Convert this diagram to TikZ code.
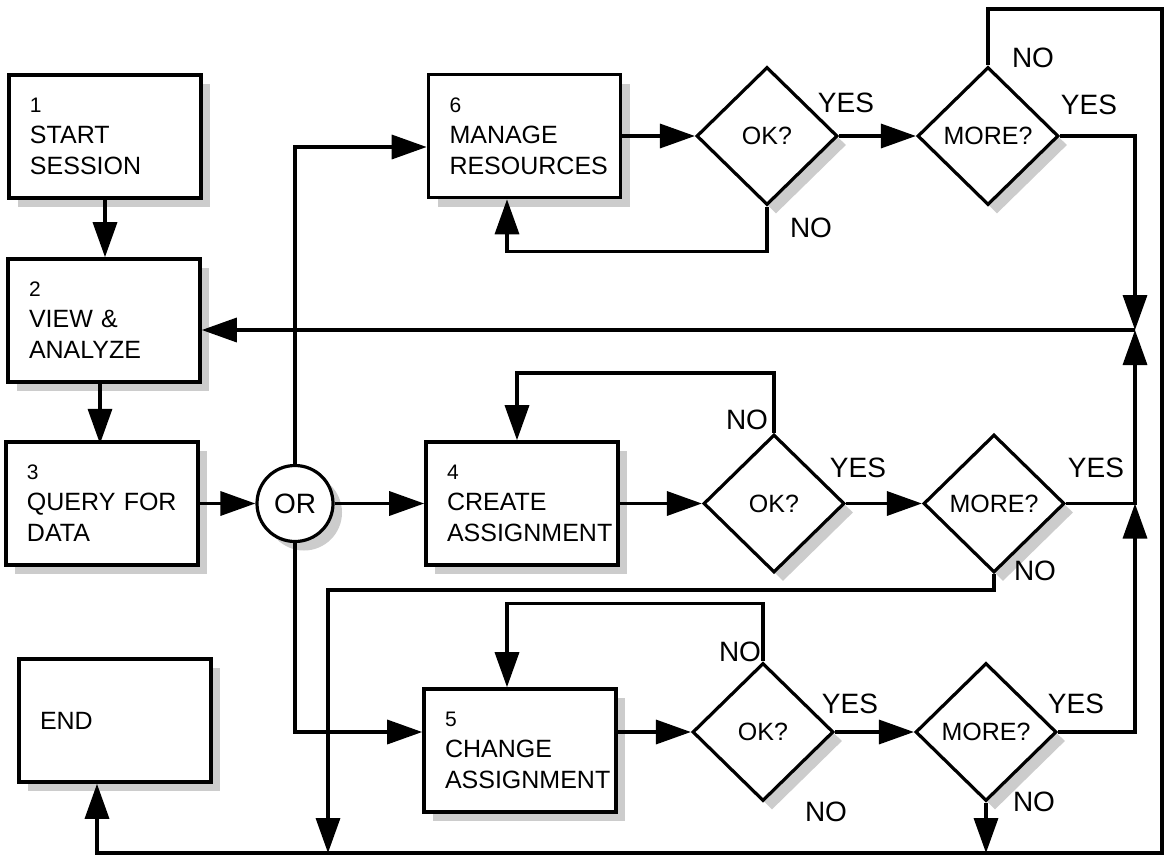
\documentclass[tikz,border=0pt]{standalone}
\usepackage{fontspec}
\setmainfont{Liberation Sans}
\usetikzlibrary{arrows.meta,shapes.geometric,shadows,calc}
\hfuzz=200pt
\hbadness=10000
\newcommand{\fcBoxFont}{\fontsize{25}{31}\selectfont}
\newcommand{\fcNumFont}{\fontsize{21}{31}\selectfont}
\newcommand{\fcLblFont}{\fontsize{28}{32}\selectfont}
\newcommand{\fcQFont}{\fontsize{25}{28}\selectfont}
\tikzset{
  shade9/.style={drop shadow={shadow xshift=9pt, shadow yshift=-9pt, fill=gray!40, opacity=1}},
  stepbox/.style={draw, line width=3.6pt, fill=white, shade9,
    minimum height=123pt, text width=150pt, inner xsep=21pt, inner ysep=0pt,
    align=left, font=\fcBoxFont},
  decide/.style={shape=diamond, draw, line width=3.2pt, fill=white, shade9,
    minimum width=141pt, minimum height=138pt, inner sep=0pt, font=\fcQFont},
  orgate/.style={shape=circle, draw, line width=3.2pt, fill=white, shade9,
    minimum size=76pt, inner sep=0pt, font=\fcLblFont},
  lbl/.style={inner sep=0pt, font=\fcLblFont},
  arr/.style={line width=3.4pt, -{Triangle[length=35pt, width=24pt]}},
  wire/.style={line width=3.4pt}
}
\begin{document}
\begin{tikzpicture}[x=1pt, y=-1pt]
  \fill[white] (0,0) rectangle (1168,855);
  \useasboundingbox (0,0) rectangle (1168,855);

  % process boxes
  \node[stepbox] (b1) at (105,136.5) {{\fcNumFont 1}\\START\\SESSION};
  \node[stepbox] (b2) at (104,320.5) {{\fcNumFont 2}\\VIEW \&\\ANALYZE};
  \node[stepbox] (b3) at (102,503.5) {{\fcNumFont 3}\\QUERY FOR\\DATA};
  \node[stepbox] (b4) at (522,503.5) {{\fcNumFont 4}\\CREATE\\ASSIGNMENT};
  \node[stepbox] (b5) at (520,750.5) {{\fcNumFont 5}\\CHANGE\\ASSIGNMENT};
  \node[stepbox] (b6) at (524.5,136) {{\fcNumFont 6}\\MANAGE\\RESOURCES};
  \node[stepbox] (end) at (115,720.5) {END};

  % OR gate
  \node[orgate] (or) at (295,503.5) {OR};

  % decisions
  \node[decide] (ok6) at (767,136) {OK?};
  \node[decide] (more6) at (988,136) {MORE?};
  \node[decide] (ok4) at (774,503.5) {OK?};
  \node[decide] (more4) at (994,503.5) {MORE?};
  \node[decide] (ok5) at (763,732) {OK?};
  \node[decide] (more5) at (986,732) {MORE?};

  % routing points
  \coordinate (J) at (1135,330);
  \coordinate (tr) at (1162,9);
  \coordinate (br) at (1162,853);
  \coordinate (d4) at (328,853);

  % main sequence
  \draw[arr] (b1.south) -- (b1.south |- b2.north);
  \draw[arr] (b2.south) ++(-4,0) -- ++(0,60);
  \draw[arr] (b3.east) -- (or.west);
  \draw[arr] (or.east) -- (b4.west);
  \draw[arr] (or.north) |- ([yshift=-11pt]b6.west);
  \draw[arr] (or.south) |- ([yshift=18.5pt]b5.west);

  % manage resources loop
  \draw[arr] (b6.east) -- (ok6.west);
  \draw[arr] (ok6.east) -- (more6.west);
  \draw[arr] (ok6.south) -- ++(0,45) -| ([xshift=-17.5pt]b6.south);
  \draw[arr] (more6.east) -| (J);

  % create assignment loop
  \draw[arr] (b4.east) -- (ok4.west);
  \draw[arr] (ok4.east) -- (more4.west);
  \draw[arr] (ok4.north) -- ++(0,-60) -| ([xshift=-5pt]b4.north);
  \draw[arr] (more4.east) -| (J);
  \draw[arr] (more4.south) -- ++(0,16) -| (d4);

  % change assignment loop
  \draw[arr] ([yshift=18.5pt]b5.east) -- (ok5.west);
  \draw[arr] (ok5.east) -- (more5.west);
  \draw[arr] (ok5.north) -- ++(0,-58) -| ([xshift=-13pt]b5.north);
  \draw[arr] (more5.east) -| (more4.east -| J);
  \draw[arr] (more5.south) -- (more5.south |- br);

  % return to view & analyze
  \draw[arr] (J) -- (J -| b2.east);

  % exit path to END
  \draw[arr] (more6.north) |- (tr) -- (br) -| ([xshift=-18pt]end.south);

  % branch labels
  \node[lbl] (y6a) at (846,103) {YES};
  \node[lbl] (n6a) at (811,228) {NO};
  \node[lbl] (y6b) at (1089,105) {YES};
  \node[lbl] (n6b) at (1033,58) {NO};
  \node[lbl] (n4a) at (747,420) {NO};
  \node[lbl] (y4a) at (858,468) {YES};
  \node[lbl] (y4b) at (1096,468) {YES};
  \node[lbl] (n4b) at (1035,571) {NO};
  \node[lbl] (n5a) at (740,652) {NO};
  \node[lbl] (y5a) at (850,704) {YES};
  \node[lbl] (n5c) at (826,812) {NO};
  \node[lbl] (y5b) at (1076,704) {YES};
  \node[lbl] (n5b) at (1034,802) {NO};
\end{tikzpicture}
\end{document}
